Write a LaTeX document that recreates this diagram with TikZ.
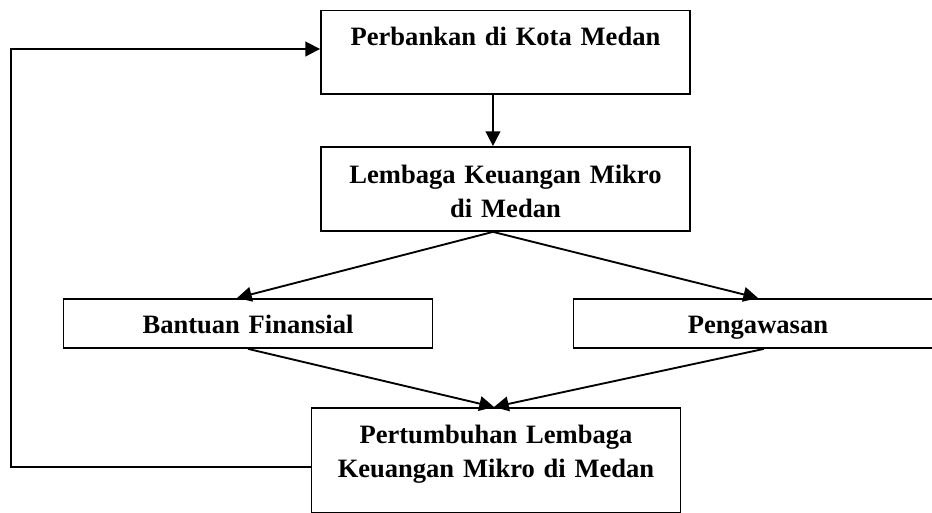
\documentclass[tikz,border=0pt]{standalone}
\usepackage{fontspec}
\setmainfont{Liberation Serif}
\usepackage{tikz}
\usetikzlibrary{arrows.meta,positioning}

\begin{document}
\begin{tikzpicture}[
        x=0.75pt, y=-0.75pt,
        box/.style={draw=black, line width=1.4pt, inner sep=0pt, text width=276.75pt,
                    align=center, anchor=north, font=\bfseries\fontsize{19.9}{25.5}\selectfont},
        arr/.style={-{Triangle[length=11pt,width=11pt]}, line width=1.4pt}
    ]
        \useasboundingbox (0,0) rectangle (932,512);

        \node[box, text height=26.25pt, text depth=36.4pt] (perbankan) at (505.5,9.5)
            {Perbankan di Kota Medan};
        \node[box, text height=27.75pt, text depth=35.25pt] (lkm) at (505.5,146)
            {Lembaga Keuangan Mikro\\di Medan};
        \node[box, text height=26.25pt, text depth=10.5pt] (bantuan) at (248,298)
            {Bantuan Finansial};
        \node[box, text height=26.25pt, text depth=10.5pt] (pengawasan) at (758,298)
            {Pengawasan};
        \node[box, text height=27pt, text depth=51.75pt] (tumbuh) at (496,407)
            {Pertumbuhan Lembaga\\Keuangan Mikro di Medan};

        \draw[arr] ([xshift=-9.4pt]perbankan.south) -- ([xshift=-9.4pt]lkm.north);
        \draw[arr] ([xshift=-9.4pt]lkm.south) -- ([xshift=-8.25pt]bantuan.north);
        \draw[arr] ([xshift=-9.4pt]lkm.south) -- (pengawasan.north);
        \draw[arr] (bantuan.south) -- ([xshift=-1.5pt]tumbuh.north);
        \draw[arr] ([xshift=4.5pt]pengawasan.south) -- ([xshift=-1.5pt]tumbuh.north);

        % feedback loop
        \coordinate (back) at (11,49);
        \draw[arr] ([yshift=-4.9pt]tumbuh.west) -| (back) -- (perbankan.west |- back);
\end{tikzpicture}
\end{document}
